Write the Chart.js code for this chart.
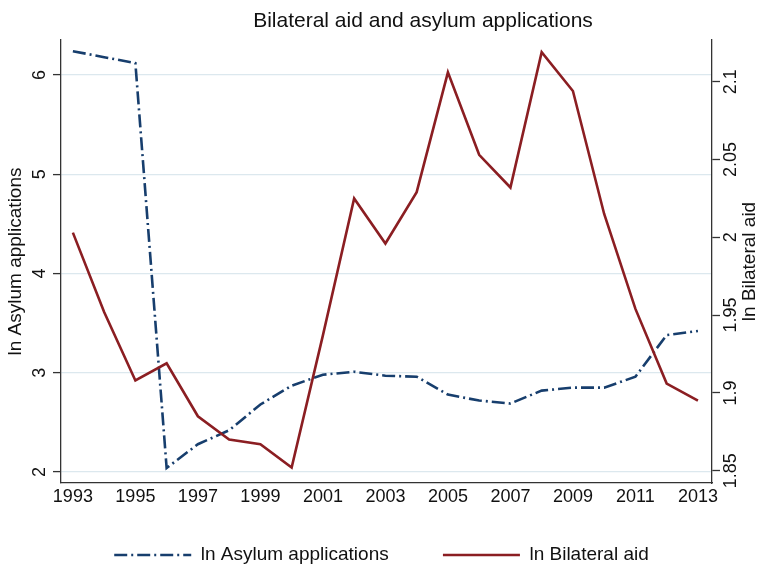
<!DOCTYPE html>
<html>
<head>
<meta charset="utf-8">
<script src="https://cdn.jsdelivr.net/npm/chart.js@4"></script>
<style>
  body { margin: 0; background: #fff; }
  canvas { display: block; }
</style>
</head>
<body>
<canvas id="chart" width="763" height="564"></canvas>
<script>
// data
const years = [1993, 1994, 1995, 1996, 1997, 1998, 1999, 2000, 2001, 2002, 2003,
  2004, 2005, 2006, 2007, 2008, 2009, 2010, 2011, 2012, 2013];
const asylum = [6.24, 6.18, 6.12, 2.04, 2.28, 2.42, 2.68, 2.87, 2.98, 3.01, 2.97,
  2.96, 2.78, 2.72, 2.69, 2.82, 2.85, 2.85, 2.96, 3.38, 3.42];
const bilateral = [2.003, 1.952, 1.908, 1.919, 1.885, 1.870, 1.867, 1.852, 1.937, 2.025, 1.996,
  2.029, 2.106, 2.053, 2.032, 2.119, 2.094, 2.015, 1.954, 1.906, 1.895];
const xTicks = [1993, 1995, 1997, 1999, 2001, 2003, 2005, 2007, 2009, 2011, 2013];
const leftTicks = [2, 3, 4, 5, 6];
const rightTicks = [1.85, 1.9, 1.95, 2, 2.05, 2.1];

const FONT = '"Liberation Sans", Arial, Helvetica, sans-serif';
const AXIS = '#333333';
const TEXT = '#111111';

// title and right axis title (reads bottom to top like the left one)
const extraText = {
  id: 'extraText',
  afterDraw(chart) {
    const ctx = chart.ctx;
    ctx.save();
    ctx.fillStyle = TEXT;
    ctx.font = '21px ' + FONT;
    ctx.textAlign = 'center';
    ctx.textBaseline = 'alphabetic';
    ctx.fillText('Bilateral aid and asylum applications', 423, 27);

    const a = chart.chartArea;
    ctx.translate(750, (a.top + a.bottom) / 2);
    ctx.rotate(-Math.PI / 2);
    ctx.font = '19px ' + FONT;
    ctx.textBaseline = 'middle';
    ctx.fillText('ln Bilateral aid', 0, 0);
    ctx.restore();
  }
};

new Chart(document.getElementById('chart'), {
  type: 'line',
  data: {
    labels: years,
    datasets: [{
      label: 'ln Asylum applications',
      data: asylum,
      yAxisID: 'y',
      borderColor: '#173e6d',
      backgroundColor: 'rgba(0,0,0,0)',
      borderWidth: 2.6,
      borderDash: [13, 4, 2, 4],
      pointRadius: 0,
      tension: 0,
      order: 1
    }, {
      label: 'ln Bilateral aid',
      data: bilateral,
      yAxisID: 'y2',
      borderColor: '#8b1e22',
      backgroundColor: 'rgba(0,0,0,0)',
      borderWidth: 2.6,
      pointRadius: 0,
      tension: 0,
      order: 0
    }]
  },
  options: {
    responsive: false,
    animation: false,
    devicePixelRatio: 1,
    layout: { padding: { top: 40, bottom: -10.5, left: 0, right: 0 } },
    plugins: {
      title: { display: false },
      tooltip: { enabled: false },
      legend: {
        position: 'bottom',
        labels: {
          usePointStyle: true,
          pointStyle: 'line',
          pointStyleWidth: 77,
          boxHeight: 10,
          padding: 12,
          color: TEXT,
          font: { family: FONT, size: 19 },
          sort: (a, b) => a.datasetIndex - b.datasetIndex,
          generateLabels: (chart) => {
            const items = Chart.defaults.plugins.legend.labels.generateLabels(chart);
            items.forEach(it => {
              const ds = chart.data.datasets[it.datasetIndex];
              // key line takes the dataset's line style, not the point's
              it.lineDash = ds.borderDash || [];
              it.lineWidth = ds.borderWidth;
              it.strokeStyle = ds.borderColor;
              it.fillStyle = ds.borderColor;
              // wider gap after the first key, as in the original
              if (it.datasetIndex === 0) it.text = it.text + '\u00a0'.repeat(8);
            });
            return items;
          }
        }
      }
    },
    scales: {
      x: {
        type: 'linear',
        min: 1992.62,
        max: 2013.45,
        afterBuildTicks: (s) => { s.ticks = xTicks.map(v => ({ value: v })); },
        afterFit: (s) => { s.height = 50.5; },
        grid: { display: false, drawTicks: false },
        border: { display: true, color: AXIS, width: 1.3 },
        ticks: {
          autoSkip: false,
          maxRotation: 0,
          padding: 3,
          color: TEXT,
          font: { family: FONT, size: 18 },
          callback: (v) => String(v)
        }
      },
      y: {
        position: 'left',
        min: 1.889,
        max: 6.353,
        afterBuildTicks: (s) => { s.ticks = leftTicks.map(v => ({ value: v })); },
        afterFit: (s) => { s.width = 61; },
        grid: {
          color: '#dce8ee',
          lineWidth: 1.2,
          tickColor: AXIS,
          tickWidth: 1.3,
          tickLength: 8
        },
        border: { display: true, color: AXIS, width: 1.3 },
        title: {
          display: true,
          text: 'ln Asylum applications',
          color: TEXT,
          font: { family: FONT, size: 19 },
          padding: { top: 4, bottom: 0 }
        },
        ticks: {
          autoSkip: false,
          minRotation: 90,
          maxRotation: 90,
          crossAlign: 'center',
          padding: 8,
          color: TEXT,
          font: { family: FONT, size: 18 },
          callback: (v) => String(v)
        }
      },
      y2: {
        position: 'right',
        min: 1.8421,
        max: 2.1268,
        afterBuildTicks: (s) => { s.ticks = rightTicks.map(v => ({ value: v })); },
        afterFit: (s) => { s.width = 51; },
        grid: {
          drawOnChartArea: false,
          tickColor: AXIS,
          tickWidth: 1.3,
          tickLength: 8
        },
        border: { display: true, color: AXIS, width: 1.3 },
        ticks: {
          autoSkip: false,
          minRotation: 90,
          maxRotation: 90,
          crossAlign: 'center',
          padding: -6,
          color: TEXT,
          font: { family: FONT, size: 18 },
          callback: (v) => String(Number(v.toFixed(2)))
        }
      }
    }
  },
  plugins: [extraText]
});
</script>
</body>
</html>
